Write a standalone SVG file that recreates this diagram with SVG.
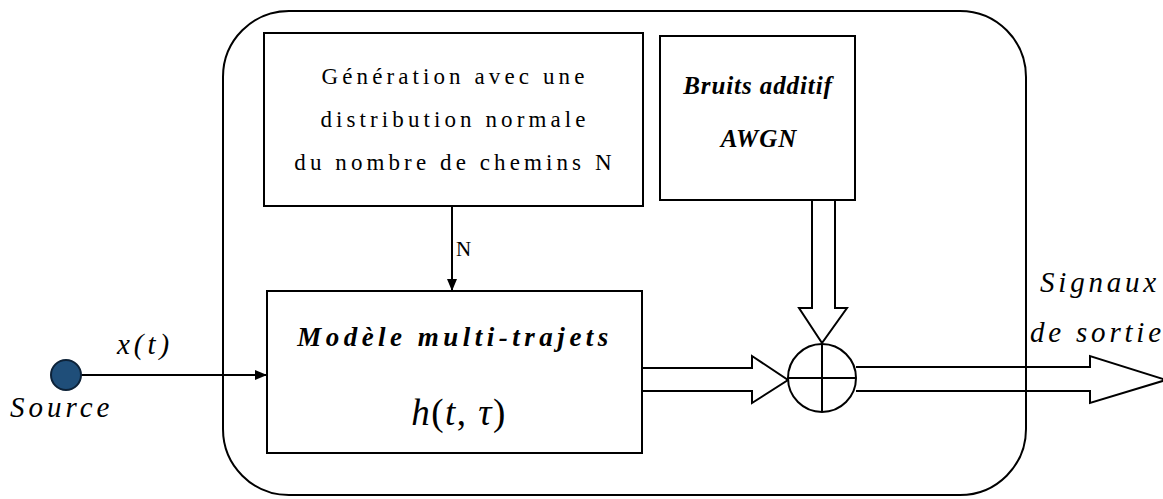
<svg xmlns="http://www.w3.org/2000/svg" width="1163" height="499" viewBox="0 0 1163 499">
<defs>
<style>
.box{fill:#fff;stroke:#000;stroke-width:2}
.ln{fill:none;stroke:#000;stroke-width:2}
.dbl{fill:#fff;stroke:#000;stroke-width:2;stroke-linejoin:miter}
.t{font-family:"Liberation Serif",serif;fill:#000}
.reg{font-size:23px;letter-spacing:4.1px}
.bi{font-weight:bold;font-style:italic}
.it{font-size:29px;font-style:italic;letter-spacing:4px}
</style>
<marker id="ah" markerWidth="12" markerHeight="10" refX="12" refY="5" orient="auto" markerUnits="userSpaceOnUse">
<path d="M0,0 L12,5 L0,10 Z" fill="#000"/>
</marker>
</defs>
<rect width="1163" height="499" fill="#fff"/>
<g id="container">
<rect x="223" y="11" width="803" height="484" rx="66" ry="66" class="ln"/>
</g>
<g id="connectors">
<line x1="81" y1="375" x2="267" y2="375" class="ln" marker-end="url(#ah)"/>
<line x1="452" y1="206" x2="452" y2="291" class="ln" marker-end="url(#ah)"/>
<path d="M642,368 L752,368 L752,356 L788,380 L752,403 L752,391 L642,391" class="dbl"/>
<path d="M812,200 L812,308 L799,308 L822,343 L847,308 L835,308 L835,200" class="dbl"/>
<path d="M856,367 L1090,367 L1090,356 L1166,380 L1090,403 L1090,391 L856,391" class="dbl"/>
<line x1="1026" y1="356" x2="1026" y2="403" class="ln" stroke-width="1.5"/>
</g>
<g id="source">
<circle cx="66" cy="375" r="15" fill="#1f4e79" stroke="#0d2238" stroke-width="2"/>
<text x="10" y="417" class="t it">Source</text>
</g>
<g id="xt-label">
<text x="117" y="354" class="t it">x(t)</text>
</g>
<g id="generation">
<rect x="264" y="33" width="379" height="173" class="box"/>
<text class="t reg" text-anchor="middle"><tspan x="455" y="84">Génération avec une</tspan><tspan x="455" y="127">distribution normale</tspan><tspan x="455" y="170">du nombre de chemins N</tspan></text>
</g>
<g id="n-label">
<text x="456" y="256" class="t" font-size="21">N</text>
</g>
<g id="bruits">
<rect x="660" y="36" width="195" height="164" class="box"/>
<text class="t bi" text-anchor="middle" font-size="25" style="letter-spacing:0.9px"><tspan x="758" y="94">Bruits additif</tspan><tspan x="759" y="147">AWGN</tspan></text>
</g>
<g id="modele">
<rect x="267" y="291" width="375" height="162" class="box"/>
<text x="455" y="346" class="t bi" text-anchor="middle" font-size="27" style="letter-spacing:4.5px">Modèle multi-trajets</text>
<text x="459" y="425" class="t" font-size="37" text-anchor="middle" style="letter-spacing:1.5px"><tspan font-style="italic">h</tspan>(<tspan font-style="italic">t</tspan>, <tspan font-style="italic">τ</tspan>)</text>
</g>
<g id="sum">
<circle cx="822" cy="378" r="34" class="box"/>
<line x1="788" y1="378" x2="856" y2="378" class="ln"/>
<line x1="822" y1="344" x2="822" y2="412" class="ln"/>
</g>
<g id="output-label">
<text class="t it" style="letter-spacing:3.8px"><tspan x="1040" y="292">Signaux</tspan><tspan x="1030" y="342">de sortie</tspan></text>
</g>
</svg>
